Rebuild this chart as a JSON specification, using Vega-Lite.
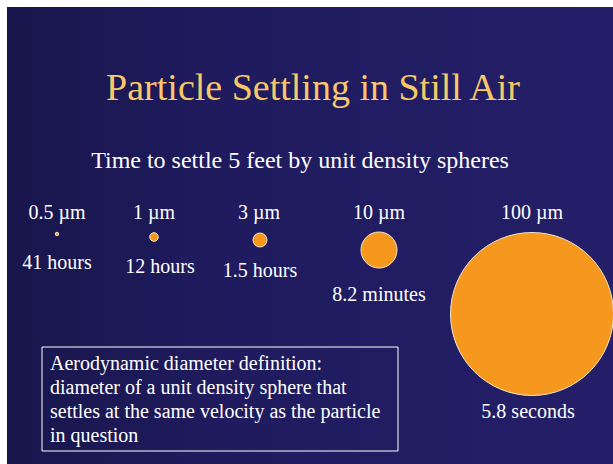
{
  "$schema": "https://vega.github.io/schema/vega-lite/v6.json",
  "width": 613,
  "height": 464,
  "autosize": {"type": "fit", "contains": "padding"},
  "padding": {"left": 7, "top": 7, "right": 0, "bottom": 0},
  "background": "#ffffff",
  "config": {
    "view": {"stroke": null, "fill": "#201c60"},
    "font": "Liberation Serif",
    "mark": {"font": "Liberation Serif"},
    "text": {"font": "Liberation Serif", "color": "#ffffff"}
  },
  "datasets": {
    "particles": [
      {"diameter": 0.5, "diameter_label": "0.5 µm", "settling_time": "41 hours"},
      {"diameter": 1, "diameter_label": "1 µm", "settling_time": "12 hours"},
      {"diameter": 3, "diameter_label": "3 µm", "settling_time": "1.5 hours"},
      {"diameter": 10, "diameter_label": "10 µm", "settling_time": "8.2 minutes"},
      {"diameter": 100, "diameter_label": "100 µm", "settling_time": "5.8 seconds"}
    ]
  },
  "data": {"name": "particles"},
  "layer": [
    {
      "data": {"values": [{}]},
      "mark": {
        "type": "rect",
        "color": {
          "gradient": "linear",
          "x1": 0, "y1": 0, "x2": 1, "y2": 0,
          "stops": [
            {"offset": 0, "color": "#18164c"},
            {"offset": 0.35, "color": "#1f1b5e"},
            {"offset": 1, "color": "#241f68"}
          ]
        }
      },
      "encoding": {}
    },
    {
      "mark": {"type": "circle", "color": "#f7981e", "opacity": 1, "stroke": "#f3e6cc", "strokeWidth": 1},
      "encoding": {
        "x": {"field": "diameter", "type": "quantitative", "axis": null,
              "scale": {"domain": [0.5, 1, 3, 10, 100], "range": [50, 147, 253, 372, 525], "nice": false, "zero": false}},
        "y": {"field": "diameter", "type": "quantitative", "axis": null,
              "scale": {"domain": [0.5, 1, 3, 10, 100], "range": [227, 230, 233, 243, 307], "nice": false, "zero": false}},
        "size": {"field": "diameter", "type": "quantitative", "legend": null,
                 "scale": {"domain": [0.5, 1, 3, 10, 100], "range": [12, 74, 196, 1296, 26569], "zero": false}}
      }
    },
    {
      "mark": {"type": "text", "font": "Liberation Serif", "fontSize": 20, "baseline": "alphabetic", "align": "center"},
      "encoding": {
        "x": {"field": "diameter", "type": "quantitative", "axis": null,
              "scale": {"domain": [0.5, 1, 3, 10, 100], "range": [50, 147, 252, 372, 525], "nice": false, "zero": false}},
        "y": {"value": 212},
        "text": {"field": "diameter_label"}
      }
    },
    {
      "mark": {"type": "text", "font": "Liberation Serif", "fontSize": 20, "baseline": "alphabetic", "align": "center"},
      "encoding": {
        "x": {"field": "diameter", "type": "quantitative", "axis": null,
              "scale": {"domain": [0.5, 1, 3, 10, 100], "range": [50, 153, 253, 372, 521], "nice": false, "zero": false}},
        "y": {"field": "diameter", "type": "quantitative", "axis": null,
              "scale": {"domain": [0.5, 1, 3, 10, 100], "range": [262, 266, 270, 294, 411], "nice": false, "zero": false}},
        "text": {"field": "settling_time"}
      }
    },
    {
      "data": {"values": [{}]},
      "mark": {"type": "text", "font": "Liberation Serif", "text": "Particle Settling in Still Air", "fontSize": 38, "color": "#f9c869", "baseline": "alphabetic", "align": "center"},
      "encoding": {"x": {"value": 306}, "y": {"value": 93}}
    },
    {
      "data": {"values": [{}]},
      "mark": {"type": "text", "font": "Liberation Serif", "text": "Time to settle 5 feet by unit density spheres", "fontSize": 24, "baseline": "alphabetic", "align": "center"},
      "encoding": {"x": {"value": 293}, "y": {"value": 161}}
    },
    {
      "data": {"values": [{}]},
      "mark": {"type": "rect", "fill": null, "fillOpacity": 0, "stroke": "#ffffff", "strokeWidth": 1},
      "encoding": {"x": {"value": 35}, "x2": {"value": 391}, "y": {"value": 340}, "y2": {"value": 444}}
    },
    {
      "data": {"values": [{}]},
      "mark": {
        "type": "text",
        "font": "Liberation Serif",
        "text": ["Aerodynamic diameter definition:", "diameter of a unit density sphere that", "settles at the same velocity as the particle", "in question"],
        "fontSize": 20, "lineHeight": 24.3, "baseline": "alphabetic", "align": "left"
      },
      "encoding": {"x": {"value": 43}, "y": {"value": 362.5}}
    }
  ],
  "resolve": {"scale": {"x": "independent", "y": "independent", "size": "independent"}}
}
